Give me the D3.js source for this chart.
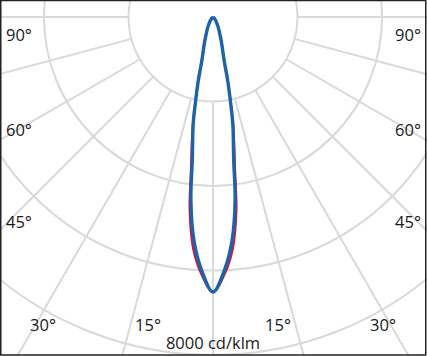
<!DOCTYPE html>
<meta charset="utf-8">
<head>
  <style>
    body { margin:0; background:#fff; }
    text { font-family: "Open Sans", sans-serif; fill:#1a1a1a; }
  </style>
  <script src="https://d3js.org/d3.v7.min.js"></script>
</head>
<body>
<svg width="427" height="356"></svg>
<script>
  // intensity (cd/klm) against angle from nadir, half profile, mirrored
  var angles = [0, 2.6, 4.9, 6.9, 8.2, 10.5, 11.6, 13, 14.4, 19.2, 29.4, 45, 90]
  var planeC0 = [6510, 6090, 5500, 4600, 3660, 2640, 2100, 1570, 1070, 585, 220, 50, 0]
  var planeC90 = [6510, 5995, 5300, 4360, 3440, 2570, 2070, 1550, 1055, 580, 218, 50, 0]
  var rings = [2000, 4000, 6000, 8000]
  var spokes = d3.range(0, 360, 15)
  var scaleText = "8000 cd/klm"

  var width = 427, height = 356
  var cx = 213, cy = 17

  var svg = d3.select('svg')
  svg.append("defs").append("clipPath").attr("id", "clip")
    .append("rect").attr("width", width).attr("height", height)

  var g = svg.append("g").attr("clip-path", "url(#clip)")

  var r = d3.scaleLinear().domain([0, 8000]).range([0, 338])

  function px(a, v) { return cx + r(v) * Math.sin(a * Math.PI / 180) }
  function py(a, v) { return cy + r(v) * Math.cos(a * Math.PI / 180) }

  // grid
  g.append("g").selectAll("circle")
    .data(rings)
    .enter().append("circle")
      .attr("cx", cx).attr("cy", cy)
      .attr("r", function (d) { return r(d) })
      .attr("fill", "none").attr("stroke", "#d9d9d9").attr("stroke-width", 2)

  g.append("g").selectAll("line")
    .data(spokes)
    .enter().append("line")
      .attr("x1", function (a) { return px(a, rings[0]) })
      .attr("y1", function (a) { return py(a, rings[0]) })
      .attr("x2", function (a) { return px(a, 20000) })
      .attr("y2", function (a) { return py(a, 20000) })
      .attr("stroke", "#d9d9d9").attr("stroke-width", 2)

  // curves
  function profile(vals) {
    var pts = []
    for (var i = vals.length - 1; i > 0; i--) pts.push([-angles[i], vals[i]])
    for (var j = 0; j < vals.length; j++) pts.push([angles[j], vals[j]])
    return pts
  }
  var line = d3.line()
    .x(function (d) { return px(d[0], d[1]) })
    .y(function (d) { return py(d[0], d[1]) })
    .curve(d3.curveCatmullRom.alpha(0.5))

  g.append("path").datum(profile(planeC0))
    .attr("d", line).attr("fill", "none")
    .attr("stroke", "#d2143f").attr("stroke-width", 2.2)
  g.append("path").datum(profile(planeC90))
    .attr("d", line).attr("fill", "none")
    .attr("stroke", "#1c63aa").attr("stroke-width", 3.4)
    .attr("stroke-linejoin", "round")

  // angle labels
  var fs = 16.5
  var sideY = { 90: 41, 60: 136, 45: 228 }
  Object.keys(sideY).forEach(function (a) {
    svg.append("text").attr("x", 6).attr("y", sideY[a]).attr("font-size", fs).text(a + "°")
    svg.append("text").attr("x", 421).attr("y", sideY[a]).attr("font-size", fs)
      .attr("text-anchor", "end").text(a + "°")
  })
  var bottomX = { 15: 65, 30: 170 }
  Object.keys(bottomX).forEach(function (a) {
    svg.append("text").attr("x", cx - bottomX[a]).attr("y", 331).attr("font-size", fs)
      .attr("text-anchor", "middle").text(a + "°")
    svg.append("text").attr("x", cx + bottomX[a]).attr("y", 331).attr("font-size", fs)
      .attr("text-anchor", "middle").text(a + "°")
  })
  svg.append("text").attr("x", cx).attr("y", 349).attr("font-size", fs)
    .attr("text-anchor", "middle").text(scaleText)

  // frame
  svg.append("rect").attr("x", 0.75).attr("y", 0.5).attr("width", width - 2).attr("height", height - 1.5)
    .attr("fill", "none").attr("stroke", "#222").attr("stroke-width", 1.5)
</script>
</body>
